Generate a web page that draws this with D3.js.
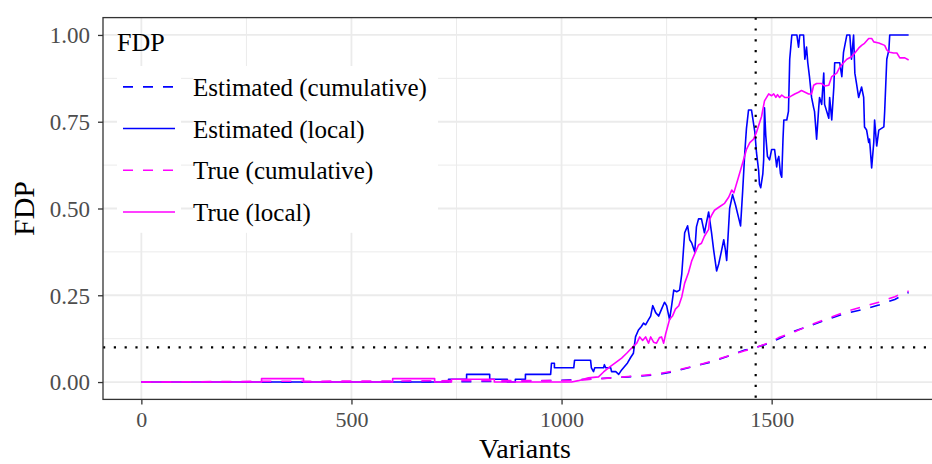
<!DOCTYPE html>
<html lang="en">
<head>
<meta charset="UTF-8">
<title>FDP</title>
<style>
  body { margin: 0; background: #fff; }
  text { font-family: "Liberation Serif", serif; }
</style>
</head>
<body>
<script src="https://d3js.org/d3.v7.min.js"></script>
<script>
const m = { width: 932, height: 464 }

// axis ticks
const xTicks = [0, 500, 1000, 1500]
const xMinor = [250, 750, 1250, 1750]
const yTicks = [0, 0.25, 0.5, 0.75, 1]
const yMinor = [0.125, 0.375, 0.625, 0.875]

// threshold lines
const vLine = 1462
const hLine = 0.1

const seriesNames = ['Estimated (cumulative)', 'Estimated (local)', 'True (cumulative)', 'True (local)']

// [variants, FDP]
const estCum = [[0,0],[740,0.001],[900,0.002],[1000,0.005],[1060,0.008],[1119,0.012],[1159,0.015],[1221,0.02],
  [1262,0.029],[1317,0.046],[1357,0.058],[1398,0.075],[1436,0.092],[1464,0.1],[1490,0.11],[1517,0.125],
  [1555,0.147],[1595,0.164],[1636,0.182],[1674,0.197],[1714,0.208],[1755,0.222],[1793,0.238],[1826,0.258]]

const estLocal = [[0,0],[731,0],[731,0.008],[774,0.008],[774,0.022],[829,0.022],[829,0.008],[871,0.008],[871,0],
  [890,0],[890,0.008],[914,0.008],[914,0.022],[974,0.022],[976,0.054],[983,0.054],[983,0.041],[1029,0.041],
  [1031,0.063],[1069,0.063],[1071,0.041],[1076,0.03],[1079,0.041],[1100,0.041],[1102,0.05],[1105,0.041],
  [1117,0.041],[1119,0.03],[1129,0.03],[1136,0.022],[1143,0.035],[1150,0.045],[1157,0.055],[1164,0.07],
  [1171,0.083],[1176,0.13],[1183,0.15],[1190,0.16],[1195,0.17],[1200,0.165],[1207,0.18],[1212,0.19],
  [1217,0.22],[1224,0.2],[1231,0.19],[1238,0.21],[1245,0.23],[1250,0.22],[1257,0.18],[1262,0.22],
  [1267,0.265],[1274,0.26],[1281,0.265],[1286,0.31],[1293,0.43],[1300,0.45],[1305,0.41],[1310,0.4],
  [1317,0.375],[1321,0.447],[1326,0.47],[1333,0.47],[1340,0.43],[1345,0.46],[1350,0.49],[1357,0.43],
  [1362,0.38],[1369,0.32],[1374,0.34],[1381,0.38],[1386,0.41],[1390,0.38],[1393,0.35],[1400,0.5],
  [1407,0.54],[1414,0.51],[1421,0.475],[1426,0.45],[1431,0.55],[1436,0.66],[1440,0.73],[1445,0.784],
  [1452,0.784],[1460,0.72],[1464,0.66],[1469,0.61],[1471,0.57],[1474,0.56],[1479,0.6],[1481,0.64],
  [1483,0.79],[1486,0.71],[1490,0.65],[1495,0.64],[1500,0.67],[1507,0.67],[1512,0.62],[1514,0.64],
  [1517,0.65],[1521,0.6],[1524,0.59],[1527,0.7],[1529,0.755],[1536,0.755],[1540,0.78],[1543,0.93],
  [1548,1],[1560,1],[1564,0.965],[1567,1],[1576,1],[1579,0.93],[1583,0.965],[1586,0.92],[1590,0.88],
  [1595,0.82],[1600,0.79],[1602,0.78],[1607,0.7],[1612,0.79],[1614,0.82],[1619,0.8],[1624,0.89],
  [1626,0.8],[1636,0.76],[1638,0.82],[1643,0.755],[1648,0.85],[1650,0.92],[1662,0.92],[1667,0.88],
  [1671,0.95],[1679,1],[1686,1],[1690,0.93],[1695,1],[1698,0.89],[1702,0.86],[1707,0.82],[1714,0.85],
  [1719,0.82],[1721,0.735],[1726,0.726],[1731,0.69],[1733,0.7],[1738,0.617],[1743,0.69],[1745,0.755],
  [1750,0.68],[1755,0.726],[1767,0.735],[1769,0.78],[1774,0.93],[1779,0.957],[1781,1],[1826,1]]

const trueCum = [[0,0],[290,0.002],[600,0.003],[740,0.004],[1000,0.004],[1060,0.007],[1119,0.012],[1159,0.016],
  [1221,0.022],[1262,0.031],[1317,0.046],[1357,0.06],[1398,0.076],[1436,0.09],[1464,0.1],[1490,0.112],
  [1517,0.128],[1555,0.145],[1595,0.166],[1636,0.184],[1674,0.202],[1714,0.216],[1755,0.23],[1793,0.246],[1826,0.262]]

const trueLocal = [[0,0],[286,0],[286,0.01],[386,0.01],[386,0],[598,0],[598,0.01],[698,0.01],[698,0],
  [738,0],[738,0.008],[840,0.008],[840,0],[1024,0],[1040,0.004],[1064,0.012],[1088,0.015],[1100,0.029],
  [1114,0.043],[1131,0.058],[1143,0.069],[1155,0.083],[1167,0.098],[1179,0.112],[1186,0.13],[1193,0.12],
  [1200,0.13],[1207,0.112],[1212,0.13],[1219,0.115],[1226,0.112],[1233,0.128],[1238,0.13],[1243,0.112],
  [1248,0.14],[1257,0.18],[1264,0.19],[1271,0.21],[1279,0.22],[1286,0.245],[1293,0.285],[1302,0.315],
  [1310,0.35],[1317,0.37],[1326,0.395],[1333,0.4],[1340,0.42],[1350,0.44],[1352,0.467],[1357,0.48],
  [1364,0.495],[1376,0.505],[1388,0.515],[1398,0.533],[1405,0.553],[1410,0.545],[1421,0.59],[1433,0.64],
  [1440,0.67],[1448,0.69],[1457,0.7],[1464,0.72],[1471,0.746],[1476,0.765],[1483,0.81],[1493,0.83],
  [1500,0.825],[1505,0.83],[1510,0.82],[1514,0.828],[1519,0.82],[1524,0.827],[1531,0.82],[1538,0.82],
  [1545,0.823],[1555,0.83],[1564,0.835],[1571,0.84],[1588,0.83],[1595,0.83],[1600,0.855],[1607,0.86],
  [1619,0.86],[1626,0.853],[1636,0.855],[1643,0.88],[1655,0.89],[1662,0.907],[1671,0.92],[1679,0.93],
  [1690,0.937],[1698,0.948],[1707,0.962],[1714,0.97],[1721,0.976],[1731,0.99],[1738,0.99],[1743,0.98],
  [1755,0.977],[1769,0.97],[1774,0.957],[1781,0.95],[1790,0.948],[1798,0.948],[1805,0.934],[1817,0.934],[1826,0.928]]

const series = [
  { name: seriesNames[0], data: estCum, color: '#0000FF', dash: '10,10' },
  { name: seriesNames[1], data: estLocal, color: '#0000FF', dash: null },
  { name: seriesNames[2], data: trueCum, color: '#FF00FF', dash: '10,10' },
  { name: seriesNames[3], data: trueLocal, color: '#FF00FF', dash: null }
]

// panel (right edge runs off the picture)
const p = { left: 103, right: 947, top: 17.6, bottom: 399.4 }

const x = d3.scaleLinear().domain([-91.3, 1917.3]).range([p.left, p.right])
const y = d3.scaleLinear().domain([-0.05, 1.05]).range([p.bottom, p.top])

const svg = d3.select('body').append('svg')
  .attr('width', m.width)
  .attr('height', m.height)

svg.append('rect').attr('x', p.left).attr('y', p.top)
  .attr('width', p.right - p.left).attr('height', p.bottom - p.top)
  .attr('fill', '#fff')

svg.append('clipPath').attr('id', 'clip')
  .append('rect').attr('x', p.left).attr('y', p.top)
  .attr('width', p.right - p.left).attr('height', p.bottom - p.top)

const grid = svg.append('g')
grid.selectAll('.xminor').data(xMinor).enter().append('line')
  .attr('x1', d => x(d)).attr('x2', d => x(d)).attr('y1', p.top).attr('y2', p.bottom)
  .attr('stroke', '#EBEBEB').attr('stroke-width', 1)
grid.selectAll('.yminor').data(yMinor).enter().append('line')
  .attr('x1', p.left).attr('x2', p.right).attr('y1', d => y(d)).attr('y2', d => y(d))
  .attr('stroke', '#EBEBEB').attr('stroke-width', 1)
grid.selectAll('.xmajor').data(xTicks).enter().append('line')
  .attr('x1', d => x(d)).attr('x2', d => x(d)).attr('y1', p.top).attr('y2', p.bottom)
  .attr('stroke', '#EBEBEB').attr('stroke-width', 1.8)
grid.selectAll('.ymajor').data(yTicks).enter().append('line')
  .attr('x1', p.left).attr('x2', p.right).attr('y1', d => y(d)).attr('y2', d => y(d))
  .attr('stroke', '#EBEBEB').attr('stroke-width', 1.8)

// legend backgrounds sit above the grid
const leg = { keyX: 117, keyW: 64, labX: 193, labW: 245, top: 66, row: 41.7 }
svg.append('rect').attr('x', leg.keyX).attr('y', leg.top)
  .attr('width', leg.keyW).attr('height', leg.row * 4).attr('fill', '#fff')
svg.append('rect').attr('x', leg.labX).attr('y', leg.top)
  .attr('width', leg.labW).attr('height', leg.row * 4).attr('fill', '#fff')

const line = d3.line().x(d => x(d[0])).y(d => y(d[1]))

const plot = svg.append('g').attr('clip-path', 'url(#clip)')
plot.selectAll('.series').data(series).enter().append('path')
  .attr('d', d => line(d.data))
  .attr('fill', 'none')
  .attr('stroke', d => d.color)
  .attr('stroke-width', 1.6)
  .attr('stroke-dasharray', d => d.dash)
  .attr('stroke-linejoin', 'round')

plot.append('line')
  .attr('x1', x(vLine)).attr('x2', x(vLine)).attr('y1', p.top).attr('y2', p.bottom)
  .attr('stroke', '#000').attr('stroke-width', 2.2).attr('stroke-dasharray', '2.2,8.6')
plot.append('line')
  .attr('x1', p.left).attr('x2', p.right).attr('y1', y(hLine)).attr('y2', y(hLine))
  .attr('stroke', '#000').attr('stroke-width', 2.2).attr('stroke-dasharray', '2.2,8.6')

svg.append('rect').attr('x', p.left).attr('y', p.top)
  .attr('width', p.right - p.left).attr('height', p.bottom - p.top)
  .attr('fill', 'none').attr('stroke', '#333333').attr('stroke-width', 1.3)

// axes
const xAxis = svg.append('g').attr('transform', `translate(0,${p.bottom})`)
  .call(d3.axisBottom(x).tickValues(xTicks).tickSize(5).tickFormat(d3.format('d')))
const yAxis = svg.append('g').attr('transform', `translate(${p.left},0)`)
  .call(d3.axisLeft(y).tickValues(yTicks).tickSize(5).tickFormat(d3.format('.2f')))

for (const a of [xAxis, yAxis]) {
  a.select('.domain').remove()
  a.selectAll('.tick line').attr('stroke', '#333333').attr('stroke-width', 1.3)
  a.selectAll('.tick text')
    .attr('fill', '#4D4D4D')
    .style('font-family', '"Liberation Serif", serif')
    .style('font-size', '23px')
}
xAxis.selectAll('.tick text').attr('y', 27.5).attr('dy', null).style('font-size', '22px')
yAxis.selectAll('.tick text').attr('x', -13).attr('dy', '0.34em')

svg.append('text')
  .attr('x', (p.left + p.right) / 2).attr('y', 457.5)
  .attr('text-anchor', 'middle')
  .style('font-size', '28px')
  .text('Variants')

svg.append('text')
  .attr('transform', `translate(34,${(p.top + p.bottom) / 2}) rotate(-90)`)
  .attr('text-anchor', 'middle')
  .style('font-size', '30px')
  .text('FDP')

// legend
svg.append('text').attr('x', 117).attr('y', 51)
  .style('font-size', '26px').text('FDP')

const items = svg.selectAll('.item').data(series).enter().append('g')
  .attr('transform', (d, i) => `translate(0,${leg.top + leg.row * (i + 0.5)})`)
items.append('line')
  .attr('x1', 123).attr('x2', 175)
  .attr('stroke', d => d.color).attr('stroke-width', 1.6)
  .attr('stroke-dasharray', d => d.dash)
items.append('text')
  .attr('x', leg.labX).attr('y', 9)
  .style('font-size', '25px')
  .text(d => d.name)
</script>
</body>
</html>
